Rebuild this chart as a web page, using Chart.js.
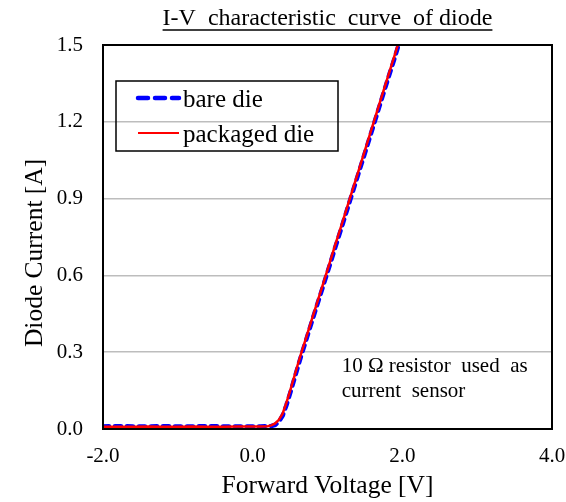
<!DOCTYPE html>
<html><head><meta charset="utf-8">
<script src="https://cdn.jsdelivr.net/npm/chart.js@4"></script>
<style>html,body{margin:0;padding:0;background:#fff;}canvas{display:block;}</style>
</head><body>
<canvas id="c" width="566" height="502"></canvas>
<script>
// ---- data ----
const voltage = [-2.0, -1.8, -1.6, -1.4, -1.2, -1.0, -0.8, -0.6, -0.4, -0.2, 0.0, 0.1, 0.2, 0.25, 0.3, 0.35, 0.4, 0.45, 0.5, 0.55, 0.6, 0.65, 0.7, 0.8, 0.9, 1.0, 1.1, 1.2, 1.3, 1.4, 1.5, 1.6, 1.7, 1.8, 1.9, 1.96];
const bareDieCurrent = [0.010, 0.011, 0.010, 0.010, 0.011, 0.010, 0.010, 0.011, 0.010, 0.010, 0.010, 0.010, 0.011, 0.012, 0.016, 0.028, 0.052, 0.092, 0.139, 0.189, 0.239, 0.288, 0.334, 0.428, 0.520, 0.612, 0.706, 0.798, 0.892, 0.985, 1.078, 1.172, 1.266, 1.360, 1.452, 1.510];
const packagedDieCurrent = [0.009, 0.009, 0.009, 0.010, 0.009, 0.009, 0.010, 0.009, 0.009, 0.010, 0.010, 0.010, 0.011, 0.014, 0.022, 0.036, 0.060, 0.102, 0.149, 0.199, 0.249, 0.297, 0.343, 0.437, 0.529, 0.622, 0.716, 0.808, 0.902, 0.995, 1.088, 1.182, 1.276, 1.370, 1.462, 1.520];
const seriesNames = ['bare die', 'packaged die'];
const xTickValues = [-2.0, 0.0, 2.0, 4.0];
const yTickValues = [0.0, 0.3, 0.6, 0.9, 1.2, 1.5];
const chartTitle = 'I-V  characteristic  curve  of diode';
const xAxisTitle = 'Forward Voltage [V]';
const yAxisTitle = 'Diode Current [A]';
const noteLines = ['10 \u03A9 resistor  used  as', 'current  sensor'];

// ---- styling / layout options ----
const FONT = "'Liberation Serif', 'Times New Roman', serif";
const TEXT = '#000000';
const noteAnchor = {x: 1.19, y: 0.243, lineStep: 0.098};

const framePlugin = {
  id: 'frame',
  afterDatasetsDraw(chart) {
    const a = chart.chartArea, ctx = chart.ctx;
    ctx.save();
    ctx.strokeStyle = '#000';
    ctx.lineWidth = 2;
    ctx.strokeRect(a.left, a.top, a.right - a.left, a.bottom - a.top);
    ctx.restore();
  }
};

const titleUnderline = {
  id: 'titleUnderline',
  afterDraw(chart) {
    const ctx = chart.ctx;
    ctx.save();
    ctx.font = '24px ' + FONT;
    const w = ctx.measureText(chartTitle).width;
    const cx = (chart.chartArea.left + chart.chartArea.right) / 2;
    const y = 30;
    ctx.strokeStyle = TEXT;
    ctx.lineWidth = 1.5;
    ctx.beginPath();
    ctx.moveTo(cx - w / 2, y);
    ctx.lineTo(cx + w / 2, y);
    ctx.stroke();
    ctx.restore();
  }
};

const boxLegend = {
  id: 'boxLegend',
  afterDraw(chart) {
    const a = chart.chartArea, ctx = chart.ctx;
    const bx = a.left + 13, by = a.top + 36, bw = 222, bh = 70;
    ctx.save();
    ctx.strokeStyle = '#000';
    ctx.lineWidth = 1.5;
    ctx.strokeRect(bx, by, bw, bh);
    const rows = [by + 17, by + 52];
    chart.data.datasets.forEach((ds, i) => {
      const y = rows[i];
      ctx.save();
      ctx.strokeStyle = ds.borderColor;
      ctx.lineWidth = ds.legendWidth;
      ctx.lineCap = ds.borderCapStyle || 'butt';
      ctx.setLineDash(ds.legendDash || []);
      ctx.beginPath();
      ctx.moveTo(bx + 22, y);
      ctx.lineTo(bx + 63, y);
      ctx.stroke();
      ctx.restore();
      ctx.fillStyle = TEXT;
      ctx.font = '25px ' + FONT;
      ctx.textBaseline = 'middle';
      ctx.textAlign = 'left';
      ctx.fillText(ds.label, bx + 67, y + 2);
    });
    ctx.restore();
  }
};

const notePlugin = {
  id: 'note',
  afterDraw(chart) {
    const xs = chart.scales.x, ys = chart.scales.y, ctx = chart.ctx;
    ctx.save();
    ctx.fillStyle = TEXT;
    ctx.font = '21px ' + FONT;
    ctx.textBaseline = 'middle';
    ctx.textAlign = 'left';
    noteLines.forEach((t, i) => {
      ctx.fillText(t, xs.getPixelForValue(noteAnchor.x), ys.getPixelForValue(noteAnchor.y - i * noteAnchor.lineStep));
    });
    ctx.restore();
  }
};

const toPoints = ys => voltage.map((v, i) => ({x: v, y: ys[i]}));

new Chart(document.getElementById('c'), {
  type: 'scatter',
  data: {
    datasets: [
      {
        label: seriesNames[0],
        data: toPoints(bareDieCurrent),
        showLine: true,
        borderColor: '#0000ff',
        backgroundColor: '#0000ff',
        borderWidth: 4.5,
        borderDash: [6, 6],
        borderCapStyle: 'round',
        legendWidth: 4.5,
        legendDash: [10, 7],
        pointRadius: 0,
        tension: 0,
        order: 1
      },
      {
        label: seriesNames[1],
        data: toPoints(packagedDieCurrent),
        showLine: true,
        borderColor: '#ff0000',
        backgroundColor: '#ff0000',
        borderWidth: 2.5,
        borderCapStyle: 'butt',
        legendWidth: 2,
        pointRadius: 0,
        tension: 0,
        order: 0
      }
    ]
  },
  options: {
    responsive: false,
    devicePixelRatio: 1,
    animation: false,
    events: [],
    layout: {padding: {left: 0, right: 14, top: 0, bottom: 0}},
    plugins: {
      legend: {display: false},
      tooltip: {enabled: false},
      title: {
        display: true,
        text: chartTitle,
        fullSize: false,
        color: TEXT,
        font: {family: FONT, size: 24, weight: 'normal'},
        padding: {top: 4, bottom: 12.2}
      }
    },
    scales: {
      x: {
        type: 'linear',
        min: -2, max: 4,
        afterBuildTicks: s => { s.ticks = xTickValues.map(v => ({value: v})); },
        afterFit: s => { s.height = 73; s.paddingLeft = 0; s.paddingRight = 0; },
        grid: {display: false, drawTicks: false},
        border: {display: false},
        ticks: {
          padding: 15,
          color: TEXT,
          font: {family: FONT, size: 21},
          maxRotation: 0,
          callback: v => Number(v).toFixed(1)
        },
        title: {
          display: true,
          text: xAxisTitle,
          color: TEXT,
          font: {family: FONT, size: 25.5},
          padding: {top: 0, bottom: 0}
        }
      },
      y: {
        type: 'linear',
        min: 0, max: 1.5,
        afterBuildTicks: s => { s.ticks = yTickValues.map(v => ({value: v})); },
        afterFit: s => { s.width = 103; s.paddingTop = 0; s.paddingBottom = 0; },
        grid: {color: '#bdbdbd', lineWidth: 1.5, drawTicks: false},
        border: {display: false},
        ticks: {
          padding: 20,
          color: TEXT,
          font: {family: FONT, size: 21},
          callback: v => Number(v).toFixed(1)
        },
        title: {
          display: true,
          text: yAxisTitle + '     ',
          color: TEXT,
          font: {family: FONT, size: 25.5},
          padding: {top: 20, bottom: 0}
        }
      }
    }
  },
  plugins: [framePlugin, titleUnderline, boxLegend, notePlugin]
});
</script>
</body></html>
